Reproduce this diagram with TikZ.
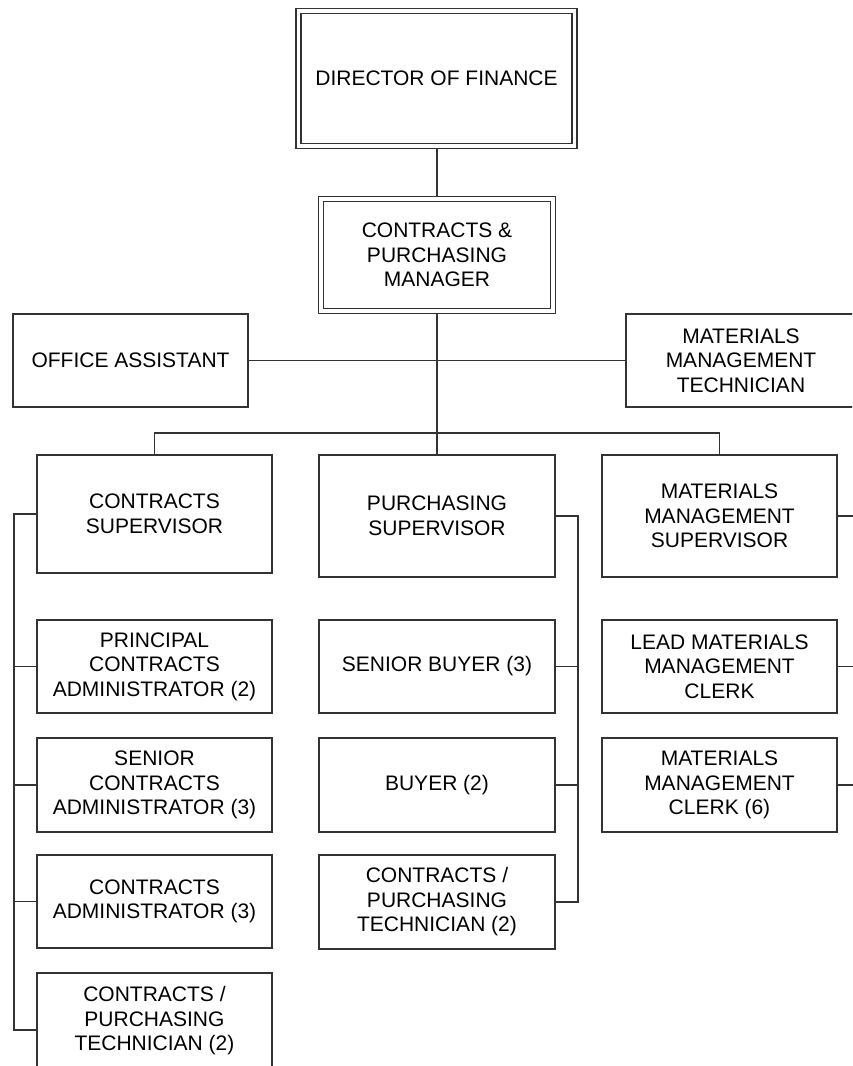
\documentclass[tikz,border=0pt]{standalone}
\usepackage{fontspec}
\setmainfont{Liberation Sans}
\usetikzlibrary{backgrounds}
\begin{document}
\begin{tikzpicture}[x=1pt,y=-1pt,
  box/.style={draw=black!80, line width=1.7pt, fill=white, inner sep=0pt, align=center,
    font=\fontsize{21}{24.5}\selectfont},
  dbox/.style={box, double=white, double distance=3.6pt, line width=1.6pt},
  conn/.style={draw=black!80, line width=1.8pt}]
\clip (0,0) rectangle (852,1066);
% top
\node[dbox, minimum width=276pt, minimum height=135pt] (dof) at (436.5,78.5) {DIRECTOR OF FINANCE};
\node[dbox, minimum width=232pt, minimum height=112pt] (cpm) at (437,255) {CONTRACTS \&\\PURCHASING\\MANAGER};
\node[box, minimum width=235pt, minimum height=93pt] (oa) at (130.5,360.5) {OFFICE ASSISTANT};
\node[box, minimum width=230pt, minimum height=93pt] (mmt) at (741,360.5) {MATERIALS\\MANAGEMENT\\TECHNICIAN};
% supervisors
\node[box, minimum width=235pt, minimum height=118pt] (cs) at (154.5,514) {CONTRACTS\\SUPERVISOR};
\node[box, minimum width=236pt, minimum height=122pt] (ps) at (437,516) {PURCHASING\\SUPERVISOR};
\node[box, minimum width=235pt, minimum height=122pt] (mms) at (719.5,516) {MATERIALS\\MANAGEMENT\\SUPERVISOR};
% left column
\node[box, minimum width=235pt, minimum height=93pt] (pca) at (154.5,666.5) {PRINCIPAL\\CONTRACTS\\ADMINISTRATOR (2)};
\node[box, minimum width=235pt, minimum height=94pt] (sca) at (154.5,785) {SENIOR\\CONTRACTS\\ADMINISTRATOR (3)};
\node[box, minimum width=235pt, minimum height=93pt] (ca) at (154.5,901.5) {CONTRACTS\\ADMINISTRATOR (3)};
\node[box, minimum width=235pt, minimum height=96pt] (cpta) at (154.5,1021) {CONTRACTS /\\PURCHASING\\TECHNICIAN (2)};
% middle column
\node[box, minimum width=236pt, minimum height=93pt] (sb) at (437,666.5) {SENIOR BUYER (3)};
\node[box, minimum width=236pt, minimum height=94pt] (by) at (437,785) {BUYER (2)};
\node[box, minimum width=236pt, minimum height=94pt] (cptb) at (437,902) {CONTRACTS /\\PURCHASING\\TECHNICIAN (2)};
% right column
\node[box, minimum width=235pt, minimum height=93pt] (lmmc) at (719.5,666.5) {LEAD MATERIALS\\MANAGEMENT\\CLERK};
\node[box, minimum width=235pt, minimum height=94pt] (mmc) at (719.5,785) {MATERIALS\\MANAGEMENT\\CLERK (6)};
% helper coordinates
\coordinate (bus) at (0,433);
\coordinate (lb) at (14,0);
\coordinate (rb) at (578,0);
\coordinate (fr) at (875,0);
\coordinate (cptabr) at ([yshift=-9pt]cpta.west);
\begin{pgfonlayer}{background}
\fill[white] (0,0) rectangle (852,1066);
\draw[conn] (cpm.north) -- (cpm.north |- dof.south);
\draw[conn] (oa.east) -- (mmt.west);
\draw[conn] (cpm.south) -- (ps.north);
\draw[conn] (cs.north) -- (cs.north |- bus) -- (mms.north |- bus) -- (mms.north);
\draw[conn] (cs.west) -- (lb |- cs.west) -- (lb |- cptabr) -- (cptabr);
\foreach \n in {pca,sca,ca} \draw[conn] (\n.west) -- (lb |- \n.west);
\draw[conn] (ps.east) -- (rb |- ps.east) -- (rb |- cptb.east) -- (cptb.east);
\foreach \n in {sb,by} \draw[conn] (\n.east) -- (rb |- \n.east);
\foreach \n in {mms,lmmc,mmc} \draw[conn] (\n.east) -- (fr |- \n.east);
\end{pgfonlayer}
\end{tikzpicture}
\end{document}
